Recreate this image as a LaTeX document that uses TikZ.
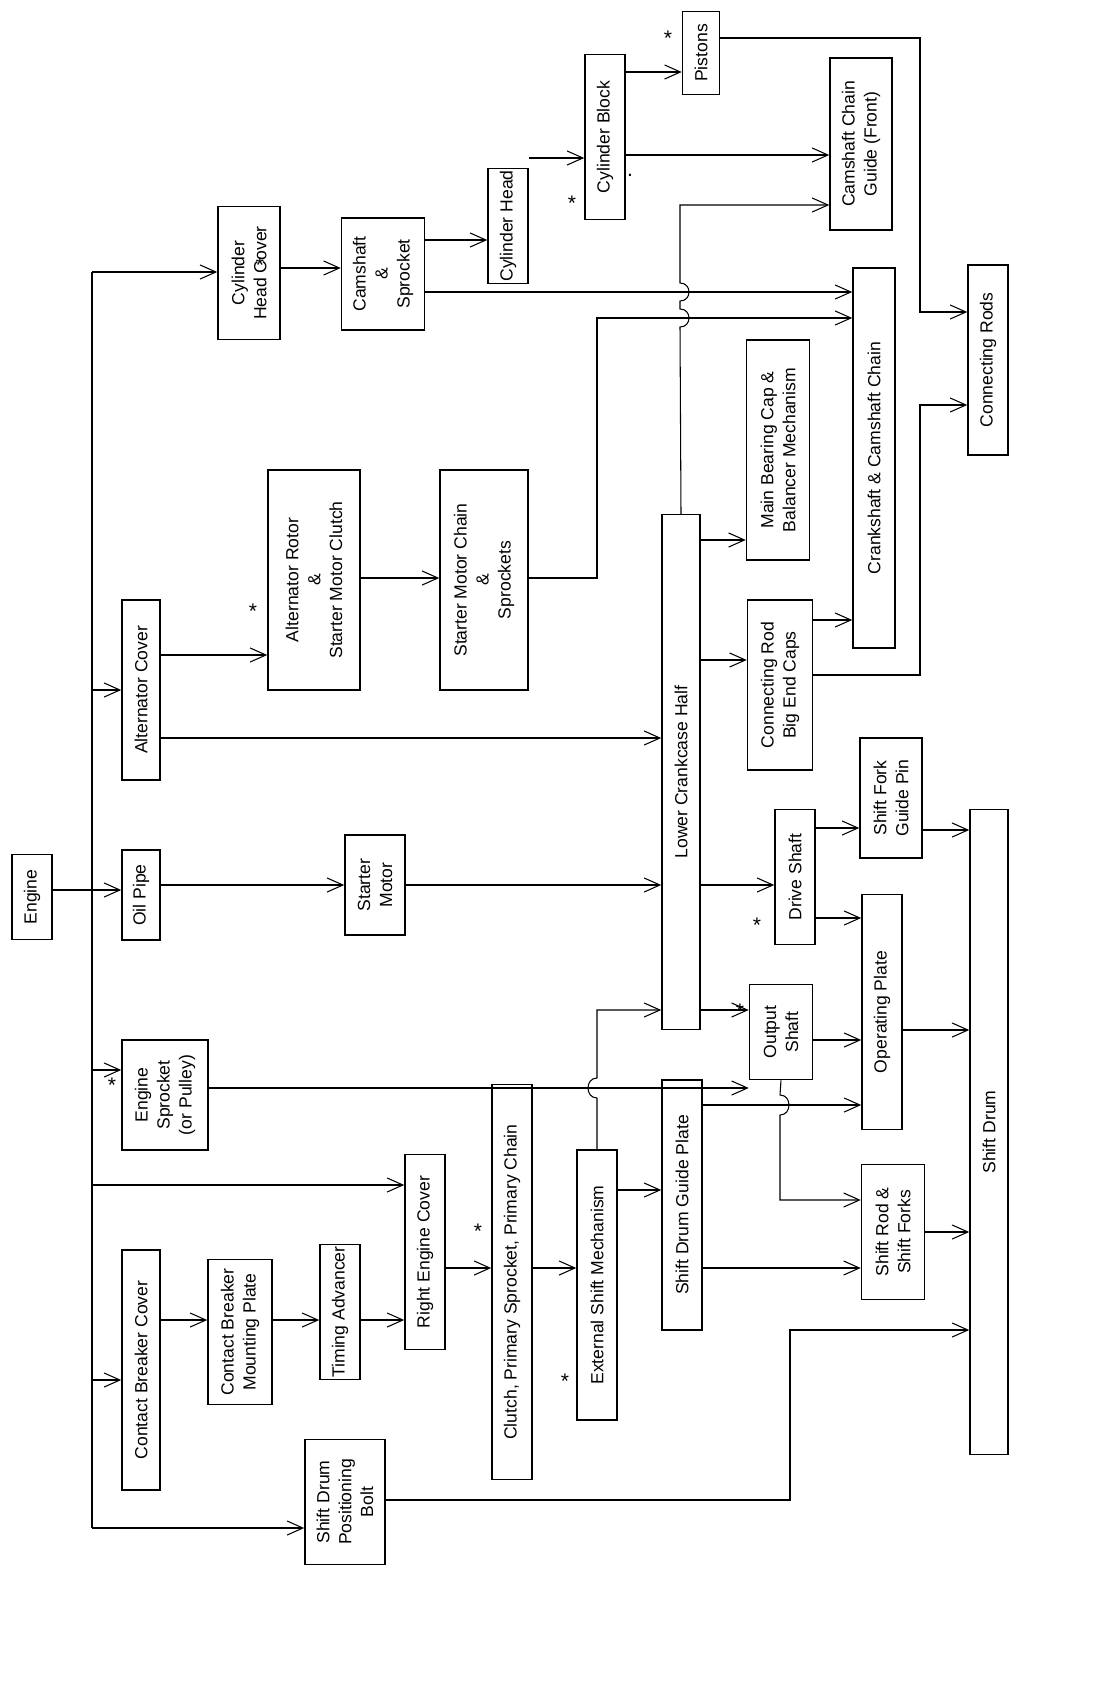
\documentclass[tikz,border=0pt]{standalone}
\usepackage{fontspec}
\setmainfont{Liberation Sans}
\usetikzlibrary{arrows.meta,positioning}

\tikzset{
  box/.style={draw, line width=0.9pt, rotate=90, align=center, inner sep=1pt, font=\fontsize{10}{12.5}\selectfont},
  arr/.style={line width=0.6pt, -{Straight Barb[length=9pt,width=8pt]}},
  ln/.style={line width=0.6pt},
  star/.style={font=\large, inner sep=0pt}
}

\begin{document}
\begin{tikzpicture}[x=0.02cm, y=-0.02cm]
    \useasboundingbox (0,0) rectangle (1098,1693);

    % Left column
    \node[box, minimum width=1.7cm, minimum height=0.8cm] (engine) at (32,897) {Engine};
    \node[box, minimum width=1.8cm, minimum height=0.76cm] (oilpipe) at (141,895) {Oil Pipe};
    \node[box, minimum width=2.2cm, minimum height=1.72cm] (sprocket) at (165,1095) {Engine\\Sprocket\\(or Pulley)};
    \node[box, minimum width=3.6cm, minimum height=0.76cm] (altcover) at (141,690) {Alternator Cover};
    \node[box, minimum width=2.66cm, minimum height=1.24cm] (headcover) at (249,273) {Cylinder\\Head Cover};
    \node[box, minimum width=4.8cm, minimum height=0.76cm] (cbcover) at (141,1370) {Contact Breaker Cover};
    \node[box, minimum width=2.5cm, minimum height=1.6cm] (bolt) at (345,1502) {Shift Drum\\Positioning\\Bolt};
    \node[box, minimum width=2.9cm, minimum height=1.28cm] (cbplate) at (240,1332) {Contact Breaker\\Mounting Plate};
    \node[box, minimum width=2.7cm, minimum height=0.8cm] (advancer) at (340,1312) {Timing Advancer};
    \node[box, minimum width=3.9cm, minimum height=0.8cm] (rcover) at (425,1252) {Right Engine Cover};
    \node[box, minimum width=7.9cm, minimum height=0.8cm] (clutch) at (512,1282) {Clutch, Primary Sprocket, Primary Chain};
    \node[box, minimum width=5.4cm, minimum height=0.8cm] (extshift) at (597,1285) {External Shift Mechanism};
    \node[box, minimum width=5.0cm, minimum height=0.8cm] (guideplate) at (682,1205) {Shift Drum Guide Plate};

    % Middle column
    \node[box, minimum width=4.4cm, minimum height=1.84cm] (rotor) at (314,580) {Alternator Rotor\\\&\\Starter Motor Clutch};
    \node[box, minimum width=2.0cm, minimum height=1.2cm] (starter) at (375,885) {Starter\\Motor};
    \node[box, minimum width=4.4cm, minimum height=1.76cm] (smchain) at (484,580) {Starter Motor Chain\\\&\\Sprockets};
    \node[box, minimum width=2.24cm, minimum height=1.66cm] (camshaft) at (383,274) {Camshaft\\\&\\Sprocket};
    \node[box, minimum width=1.9cm, minimum height=0.8cm] (head) at (508,226) {Cylinder Head};
    \node[box, minimum width=3.3cm, minimum height=0.8cm] (block) at (605,137) {Cylinder Block};
    \node[box, minimum width=1.66cm, minimum height=0.74cm] (pistons) at (701,53) {Pistons};
    \node[box, minimum width=10.3cm, minimum height=0.76cm] (crankcase) at (681,772) {Lower Crankcase Half};

    % Right column
    \node[box, minimum width=3.44cm, minimum height=1.24cm] (guide) at (861,144) {Camshaft Chain\\Guide (Front)};
    \node[box, minimum width=7.6cm, minimum height=0.84cm] (crankchain) at (874,458) {Crankshaft \& Camshaft Chain};
    \node[box, minimum width=3.8cm, minimum height=0.8cm] (conrods) at (988,360) {Connecting Rods};
    \node[box, minimum width=4.4cm, minimum height=1.26cm] (mainbearing) at (778,450) {Main Bearing Cap \&\\Balancer Mechanism};
    \node[box, minimum width=3.4cm, minimum height=1.3cm] (bigend) at (780,685) {Connecting Rod\\Big End Caps};
    \node[box, minimum width=2.7cm, minimum height=0.8cm] (driveshaft) at (795,877) {Drive Shaft};
    \node[box, minimum width=2.4cm, minimum height=1.24cm] (guidepin) at (891,798) {Shift Fork\\Guide Pin};
    \node[box, minimum width=1.9cm, minimum height=1.26cm] (output) at (781,1032) {Output\\Shaft};
    \node[box, minimum width=4.7cm, minimum height=0.8cm] (opplate) at (882,1012) {Operating Plate};
    \node[box, minimum width=2.7cm, minimum height=1.26cm] (shiftrod) at (893,1232) {Shift Rod \&\\Shift Forks};
    \node[box, minimum width=12.9cm, minimum height=0.76cm] (drum) at (989,1132) {Shift Drum};

    % Bus from engine
    \coordinate (bustop) at (92,272);
    \coordinate (busbot) at (92,1528);
    \draw[ln] (bustop) -- (busbot);
    \draw[ln] (engine.south |- 0,890) -- (92,890);
    \foreach \yy/\dest in {272/headcover, 690/altcover, 890/oilpipe, 1070/sprocket, 1185/rcover, 1380/cbcover, 1528/bolt}
        \draw[arr] (92,\yy) -- (\dest.north |- 0,\yy);

    % Left chain
    \draw[arr] (cbcover.south |- 0,1320) -- (cbplate.north |- 0,1320);
    \draw[arr] (cbplate.south |- 0,1320) -- (advancer.north |- 0,1320);
    \draw[arr] (advancer.south |- 0,1320) -- (rcover.north |- 0,1320);
    \draw[arr] (rcover.south |- 0,1268) -- (clutch.north |- 0,1268);
    \draw[arr] (clutch.south |- 0,1268) -- (extshift.north |- 0,1268);
    \draw[arr] (extshift.south |- 0,1190) -- (guideplate.north |- 0,1190);
    \draw[arr] (extshift.east) -- (597,1098) .. controls (585,1098) and (585,1078) .. (597,1078)
        -- (597,1010) -- (crankcase.north |- 0,1010);
    \draw[arr] (sprocket.south |- 0,1088) -- (output.north |- 0,1088);
    \draw[arr] (guideplate.south |- 0,1105) -- (opplate.north |- 0,1105);
    \draw[arr] (guideplate.south |- 0,1268) -- (shiftrod.north |- 0,1268);
    \draw[arr] (output.west) -- (780,1095) .. controls (792,1095) and (792,1115) .. (780,1115)
        -- (780,1200) -- (shiftrod.north |- 0,1200);

    % Middle
    \draw[arr] (altcover.south |- 0,655) -- (rotor.north |- 0,655);
    \draw[arr] (altcover.south |- 0,738) -- (crankcase.north |- 0,738);
    \draw[arr] (rotor.south |- 0,578) -- (smchain.north |- 0,578);
    \draw[arr] (oilpipe.south |- 0,885) -- (starter.north |- 0,885);
    \draw[arr] (starter.south |- 0,885) -- (crankcase.north |- 0,885);
    \draw[arr] (smchain.south |- 0,578) -- (597,578) -- (597,318) -- (crankchain.north |- 0,318);
    \draw[arr] (headcover.south |- 0,268) -- (camshaft.north |- 0,268);
    \draw[arr] (camshaft.south |- 0,292) -- (crankchain.north |- 0,292);
    \draw[arr] (camshaft.south |- 0,240) -- (head.north |- 0,240);
    \draw[arr] (head.south |- 0,158) -- (block.north |- 0,158);
    \draw[arr] (block.south |- 0,72) -- (pistons.north |- 0,72);
    \draw[arr] (block.south |- 0,155) -- (guide.north |- 0,155);
    \draw[arr] (crankcase.east) -- (680,327) .. controls (692,327) and (692,309) .. (680,309)
        -- (680,301) .. controls (692,301) and (692,283) .. (680,283)
        -- (680,205) -- (guide.north |- 0,205);

    % Right
    \draw[arr] (crankcase.south |- 0,540) -- (mainbearing.north |- 0,540);
    \draw[arr] (crankcase.south |- 0,660) -- (bigend.north |- 0,660);
    \draw[arr] (crankcase.south |- 0,885) -- (driveshaft.north |- 0,885);
    \draw[arr] (crankcase.south |- 0,1010) -- (output.north |- 0,1010);
    \draw[arr] (bigend.south |- 0,620) -- (crankchain.north |- 0,620);
    \draw[arr] (pistons.south |- 0,38) -- (920,38) -- (920,312) -- (conrods.north |- 0,312);
    \draw[arr] (bigend.south |- 0,675) -- (920,675) -- (920,405) -- (conrods.north |- 0,405);
    \draw[arr] (driveshaft.south |- 0,828) -- (guidepin.north |- 0,828);
    \draw[arr] (driveshaft.south |- 0,918) -- (opplate.north |- 0,918);
    \draw[arr] (output.south |- 0,1040) -- (opplate.north |- 0,1040);
    \draw[arr] (guidepin.south |- 0,830) -- (drum.north |- 0,830);
    \draw[arr] (opplate.south |- 0,1030) -- (drum.north |- 0,1030);
    \draw[arr] (shiftrod.south |- 0,1232) -- (drum.north |- 0,1232);
    \draw[arr] (bolt.south |- 0,1500) -- (790,1500) -- (790,1330) -- (drum.north |- 0,1330);

    % Asterisks
    \foreach \xx/\yy [count=\i] in {112/1085, 253/611, 260/265, 478/1231, 565/1381, 740/1011, 757/925, 572/203, 668/38}
        \node[star] (star\i) at (\xx,\yy) {*};
    \node[star] (dot) at (630,175) {.};
\end{tikzpicture}
\end{document}
